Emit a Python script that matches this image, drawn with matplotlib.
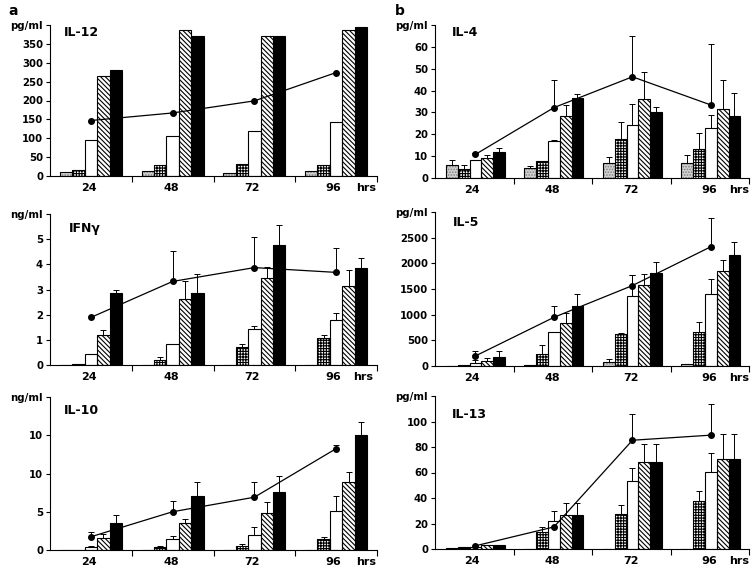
import matplotlib
matplotlib.use('Agg')
import matplotlib.pyplot as plt
import numpy as np

plt.rcParams['font.family'] = ['DejaVu Sans']
plt.rcParams['font.weight'] = 'bold'
plt.rcParams['hatch.linewidth'] = 0.8

hours = ['24', '48', '72', '96']

# ---------------- IL-12 (pg/ml) ----------------
il12_stip = [10, 12, 9, 12]
il12_check = [16, 28, 31, 29]
il12_white = [96, 107, 118, 142]
il12_hatch = [264, 388, 370, 386]
il12_black = [280, 370, 370, 394]
il12_line = [147, 167, 199, 274]
il12_ticks = [0, 50, 100, 150, 200, 250, 300, 350, 400]
il12_labels = ['0', '50', '100', '150', '200', '250', '300', '350', 'pg/ml']

# ---------------- IFN-gamma (ng/ml) ----------------
ifn_stip = [0, 0, 0, 0]
ifn_check = [0.03, 0.20, 0.71, 1.08]
ifn_white = [0.44, 0.84, 1.44, 1.77]
ifn_hatch = [1.21, 2.61, 3.44, 3.12]
ifn_black = [2.88, 2.88, 4.76, 3.86]
ifn_line = [1.89, 3.32, 3.87, 3.68]
ifn_stip_err = [0, 0, 0, 0]
ifn_check_err = [0, 0.11, 0.13, 0.11]
ifn_white_err = [0, 0, 0.12, 0.30]
ifn_hatch_err = [0.20, 0.71, 0.46, 0.67]
ifn_black_err = [0.09, 0.75, 0.79, 0.38]
ifn_line_err = [0, 1.22, 1.20, 0.95]
ifn_ticks = [0, 1, 2, 3, 4, 5, 6]
ifn_labels = ['0', '1', '2', '3', '4', '5', 'ng/ml']

# ---------------- IL-10 (ng/ml) ----------------
il10_stip = [0.05, 0.05, 0.05, 0]
il10_check = [0.05, 0.40, 0.53, 1.50]
il10_white = [0.40, 1.46, 1.95, 5.09]
il10_hatch = [1.60, 3.50, 4.87, 8.94]
il10_black = [3.50, 7.00, 7.52, 15.0]
il10_line = [1.73, 5.00, 6.90, 13.25]
il10_stip_err = [0, 0, 0, 0]
il10_check_err = [0, 0.17, 0.27, 0.18]
il10_white_err = [0.17, 0.40, 1.10, 1.91]
il10_hatch_err = [0.50, 0.57, 1.41, 1.26]
il10_black_err = [1.10, 1.85, 2.21, 1.75]
il10_line_err = [0.62, 1.40, 2.04, 0.45]
il10_ticks = [0, 5, 10, 15, 20]
il10_labels = ['0', '5', '10', '10', 'ng/ml']

# ---------------- IL-4 (pg/ml) ----------------
il4_stip = [5.8, 4.4, 6.7, 6.9]
il4_check = [4.3, 7.6, 17.7, 13.3]
il4_white = [8.4, 16.8, 24.3, 22.7]
il4_hatch = [9.2, 28.4, 36.0, 31.5]
il4_black = [11.8, 36.5, 30.2, 28.2]
il4_line = [10.8, 32.2, 46.3, 33.4]
il4_stip_err = [2.3, 1.2, 2.9, 3.5]
il4_check_err = [1.5, 0.3, 7.8, 7.5]
il4_white_err = [0, 0.6, 9.7, 6.2]
il4_hatch_err = [1.5, 5.2, 12.5, 13.5]
il4_black_err = [1.9, 2.1, 2.3, 10.7]
il4_line_err = [0.8, 12.5, 18.6, 28.1]
il4_ticks = [0, 10, 20, 30, 40, 50, 60, 70]
il4_labels = ['0', '10', '20', '30', '40', '50', '60', 'pg/ml']

# ---------------- IL-5 (pg/ml) ----------------
il5_stip = [0, 15, 78, 39]
il5_check = [26, 229, 627, 654]
il5_white = [52, 667, 1358, 1410]
il5_hatch = [91, 837, 1573, 1860]
il5_black = [183, 1163, 1815, 2154]
il5_line = [196, 948, 1567, 2324]
il5_stip_err = [0, 0, 59, 0]
il5_check_err = [0, 183, 20, 209]
il5_white_err = [65, 0, 411, 287]
il5_hatch_err = [72, 196, 222, 203]
il5_black_err = [117, 236, 202, 261]
il5_line_err = [98, 228, 208, 555]
il5_ticks = [0, 500, 1000, 1500, 2000, 2500, 3000]
il5_labels = ['0', '500', '1000', '1500', '2000', '2500', 'pg/ml']

# ---------------- IL-13 (pg/ml) ----------------
il13_stip = [0.5, 0, 0, 0]
il13_check = [1.2, 13.4, 27.7, 37.4]
il13_white = [1.8, 22.3, 53.7, 60.5]
il13_hatch = [3.2, 26.4, 68.0, 70.2]
il13_black = [3.2, 26.4, 68.0, 70.2]
il13_line = [2.5, 17.3, 85.3, 89.3]
il13_stip_err = [0, 0, 0, 0]
il13_check_err = [0, 3.9, 6.9, 7.9]
il13_white_err = [0, 7.7, 9.9, 14.9]
il13_hatch_err = [0, 9.5, 14.7, 20.1]
il13_black_err = [0, 9.5, 14.7, 20.1]
il13_line_err = [0, 0, 20.7, 24.3]
il13_ticks = [0, 20, 40, 60, 80, 100, 120]
il13_labels = ['0', '20', '40', '60', '80', '100', 'pg/ml']

# bar styles: stippled, checkered, white, diagonal hatch, black
styles = [
    dict(face='#d0d0d0', hatch='......', hcol='#808080'),
    dict(face='white', hatch='++++++', hcol='black'),
    dict(face='white', hatch=None, hcol='black'),
    dict(face='white', hatch='\\\\\\\\\\\\\\', hcol='black'),
    dict(face='black', hatch=None, hcol='black'),
]

W, H = 754, 571
fig = plt.figure(figsize=(W / 100, H / 100), dpi=100)


def add_ax(x0, x1, ytop, ybot):
    return fig.add_axes([x0 / W, 1 - ybot / H, (x1 - x0) / W, (ybot - ytop) / H])


def errbars(ax, x, y, e, z):
    x = np.asarray(x, float)
    y = np.asarray(y, float)
    e = np.asarray(e, float)
    m = e > 0
    if not m.any():
        return
    res = ax.errorbar(x[m], y[m], yerr=[np.zeros(m.sum()), e[m]], fmt='none',
                      ecolor='black', elinewidth=0.7, capsize=2.2, capthick=0.7,
                      zorder=z)
    caps = res[1]
    if len(caps) == 2:
        caps[0].set_visible(False)


def panel(ax, series, errs, line, line_err, ticks, labels, title, tpos,
          center=0.5, bw=0.152, lab_x=(0.48, 1.48, 2.47, 3.46), hrs_x=3.87):
    g = np.arange(4)
    for i, (vals, st) in enumerate(zip(series, styles)):
        xs = g + center + (i - 2) * bw
        ax.bar(xs, vals, bw, color=st['face'], edgecolor=st['hcol'],
               hatch=st['hatch'], linewidth=0, zorder=2)
        ax.bar(xs, vals, bw, fill=False, edgecolor='black', linewidth=0.8,
               zorder=3)
        if errs is not None:
            errbars(ax, xs, vals, errs[i], 3)
    xl = g + center
    ax.plot(xl, line, color='black', lw=0.9, marker='o', ms=4, zorder=5)
    if line_err is not None:
        errbars(ax, xl, line, line_err, 4)
    ax.set_xlim(0, 4)
    ax.set_ylim(ticks[0], ticks[-1])
    ax.set_yticks(ticks)
    ax.set_yticklabels(labels)
    ax.set_xticks([1, 2, 3, 4])
    ax.set_xticklabels([])
    ax.set_xticks(list(lab_x) + [hrs_x], minor=True)
    ax.set_xticklabels(hours + ['hrs'], minor=True)
    ax.tick_params(axis='x', which='major', direction='out', length=4.5,
                   width=0.8)
    ax.tick_params(axis='x', which='minor', length=0, pad=5, labelsize=8)
    ax.tick_params(axis='y', direction='out', length=3, width=0.8, pad=2,
                   labelsize=7.3)
    for s in ['top', 'right']:
        ax.spines[s].set_visible(False)
    for s in ['left', 'bottom']:
        ax.spines[s].set_linewidth(0.8)
    ax.text(tpos[0], tpos[1], title, transform=ax.transAxes, fontsize=9,
            fontweight='bold', ha='left', va='center')


# Left column
ax = add_ax(50, 377, 25, 176)
panel(ax, [il12_stip, il12_check, il12_white, il12_hatch, il12_black], None,
      il12_line, None, il12_ticks, il12_labels, 'IL-12', (0.043, 0.95))

ax = add_ax(50, 377, 214, 365)
panel(ax, [ifn_stip, ifn_check, ifn_white, ifn_hatch, ifn_black],
      [ifn_stip_err, ifn_check_err, ifn_white_err, ifn_hatch_err, ifn_black_err],
      ifn_line, ifn_line_err, ifn_ticks, ifn_labels, 'IFN\u03b3', (0.058, 0.905),
      hrs_x=3.83)

ax = add_ax(50, 377, 397, 550)
panel(ax, [il10_stip, il10_check, il10_white, il10_hatch, il10_black],
      [il10_stip_err, il10_check_err, il10_white_err, il10_hatch_err, il10_black_err],
      il10_line, il10_line_err, il10_ticks, il10_labels, 'IL-10', (0.043, 0.915))

# Right column
rc = dict(center=0.515, bw=0.15, lab_x=(0.47, 1.5, 2.5, 3.49), hrs_x=3.88)
ax = add_ax(435, 749, 25, 178)
panel(ax, [il4_stip, il4_check, il4_white, il4_hatch, il4_black],
      [il4_stip_err, il4_check_err, il4_white_err, il4_hatch_err, il4_black_err],
      il4_line, il4_line_err, il4_ticks, il4_labels, 'IL-4', (0.054, 0.954), **rc)

ax = add_ax(435, 749, 212, 366)
panel(ax, [il5_stip, il5_check, il5_white, il5_hatch, il5_black],
      [il5_stip_err, il5_check_err, il5_white_err, il5_hatch_err, il5_black_err],
      il5_line, il5_line_err, il5_ticks, il5_labels, 'IL-5', (0.057, 0.935), **rc)

ax = add_ax(435, 749, 396, 549)
panel(ax, [il13_stip, il13_check, il13_white, il13_hatch, il13_black],
      [il13_stip_err, il13_check_err, il13_white_err, il13_hatch_err, il13_black_err],
      il13_line, il13_line_err, il13_ticks, il13_labels, 'IL-13', (0.054, 0.88), **rc)

fig.text(8 / W, 1 - 11 / H, 'a', fontsize=10, fontweight='bold', ha='left', va='center')
fig.text(395 / W, 1 - 11 / H, 'b', fontsize=10, fontweight='bold', ha='left', va='center')

fig.savefig('out.png', dpi=100)
